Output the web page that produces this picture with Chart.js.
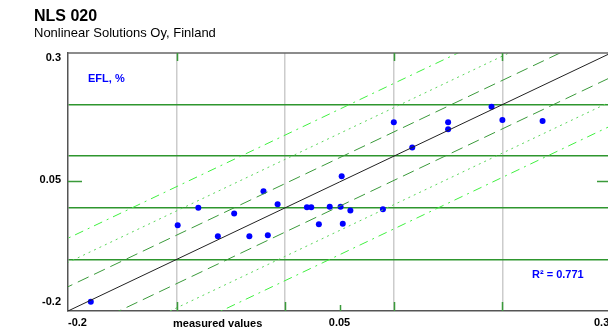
<!DOCTYPE html>
<html>
<head>
<meta charset="utf-8">
<script src="https://cdn.jsdelivr.net/npm/chart.js@4"></script>
<style>
  html, body { margin: 0; padding: 0; background: #fff; overflow: hidden; }
  #wrap { width: 620px; height: 331px; }
</style>
</head>
<body>
<div id="wrap"><canvas id="myChart"></canvas></div>
<script>
// measured vs predicted EFL values
var measured = [-0.179, -0.099, -0.080, -0.062, -0.047, -0.033, -0.020, -0.016, -0.007, 0.020,
                0.024, 0.031, 0.041, 0.051, 0.052, 0.053, 0.060, 0.090, 0.100, 0.117,
                0.150, 0.150, 0.190, 0.200, 0.237];
var predicted = [-0.182, -0.034, 0.000, -0.055, -0.011, -0.055, 0.032, -0.053, 0.007, 0.001,
                 0.001, -0.032, 0.002, 0.002, 0.061, -0.031, -0.005, -0.003, 0.166, 0.117,
                 0.166, 0.152, 0.196, 0.170, 0.168];
var axis_range = [-0.2, 0.3];
var grid_values = [-0.1, 0, 0.1, 0.2];
var x_labels = [-0.2, 0.05, 0.3];
var y_labels = [0.3, 0.05, -0.2];
var sigma = 0.047;
var r_squared = '0.771';

var points = measured.map(function (v, i) { return { x: v, y: predicted[i] }; });

function band(off) {
    // y = x + off across the whole axis range
    return [{ x: axis_range[0] - 0.5, y: axis_range[0] - 0.5 + off },
            { x: axis_range[1] + 0.5, y: axis_range[1] + 0.5 + off }];
}

var bands = [
    { k: 1, color: '#3a9a3a', dash: [12, 6] },
    { k: 2, color: '#5cd65c', dash: [2, 4] },
    { k: 3, color: '#40f040', dash: [9, 5, 2, 5] }
];

var datasets = [];
bands.forEach(function (b) {
    [1, -1].forEach(function (s) {
        datasets.push({
            type: 'line', data: band(s * b.k * sigma), borderColor: b.color,
            borderWidth: 1, borderDash: b.dash, pointRadius: 0, fill: false
        });
    });
});
datasets.push({
    type: 'line', data: band(0), borderColor: '#222', borderWidth: 1,
    pointRadius: 0, fill: false
});
datasets.push({
    type: 'scatter', data: points, backgroundColor: '#0000ff', borderColor: '#0000ff',
    pointRadius: 3, pointBorderWidth: 0
});

var decor = {
    id: 'decor',
    afterDraw: function (chart) {
        var c = chart.ctx, a = chart.chartArea;
        var xs = chart.scales.x, ys = chart.scales.y;
        c.save();
        // top border
        c.strokeStyle = '#666';
        c.lineWidth = 1.5;
        c.beginPath();
        c.moveTo(a.left, a.top); c.lineTo(a.right, a.top);
        c.stroke();
        // little green ticks
        c.strokeStyle = '#3a9a3a';
        c.lineWidth = 1.5;
        grid_values.concat([0.05]).forEach(function (v) {
            var px = Math.round(xs.getPixelForValue(v)) + 0.5;
            var len = v === 0.05 ? 6 : 9;
            c.beginPath();
            c.moveTo(px, a.bottom); c.lineTo(px, a.bottom - len);
            if (v !== 0 && v !== 0.05) { c.moveTo(px, a.top); c.lineTo(px, a.top + 8); }
            c.stroke();
        });
        var py = Math.round(ys.getPixelForValue(0.05)) - 0.5;
        c.beginPath();
        c.moveTo(a.left, py); c.lineTo(a.left + 14, py);
        c.moveTo(a.right - 14, py); c.lineTo(a.right, py);
        c.stroke();

        // tick labels
        c.fillStyle = '#000';
        c.font = 'bold 11px "Liberation Sans", Arial, sans-serif';
        c.textBaseline = 'middle';
        c.textAlign = 'right';
        var yOff = [5, -2, -9];
        y_labels.forEach(function (v, i) {
            c.fillText(String(v), a.left - 7, ys.getPixelForValue(v) + yOff[i]);
        });
        var ly = a.bottom + 12;
        c.textAlign = 'left';
        c.fillText(String(x_labels[0]), xs.getPixelForValue(x_labels[0]), ly);
        c.textAlign = 'center';
        c.fillText(String(x_labels[1]), xs.getPixelForValue(x_labels[1]), ly);
        c.textAlign = 'left';
        c.fillText(String(x_labels[2]), xs.getPixelForValue(x_labels[2]) - 17, ly);
        c.fillText('measured values', 173, ly + 1);

        // annotations
        c.fillStyle = '#0000ff';
        c.fillText('EFL, %', 88, 79);
        c.fillText('R² = ' + r_squared, 532, 275);

        // title
        c.fillStyle = '#000';
        c.textBaseline = 'alphabetic';
        c.font = 'bold 16px "Liberation Sans", Arial, sans-serif';
        c.fillText('NLS 020', 34, 21);
        c.font = '13px "Liberation Sans", Arial, sans-serif';
        c.fillText('Nonlinear Solutions Oy, Finland', 34, 37);
        c.restore();
    }
};

var ctx = document.getElementById('myChart').getContext('2d');
var myChart = new Chart(ctx, {
    data: { datasets: datasets },
    options: {
        responsive: true,
        maintainAspectRatio: false,
        animation: false,
        layout: { padding: { top: 53, left: 68, right: 9, bottom: 20 } },
        scales: {
            x: {
                type: 'linear', min: axis_range[0], max: axis_range[1],
                ticks: { display: false, stepSize: 0.1 },
                grid: {
                    drawTicks: false, lineWidth: 1.5,
                    color: function (c) {
                        return grid_values.some(function (g) { return Math.abs(g - c.tick.value) < 1e-6; }) ? '#cccccc' : 'rgba(0,0,0,0)';
                    }
                },
                border: { color: '#555', width: 1.5 }
            },
            y: {
                type: 'linear', min: axis_range[0], max: axis_range[1],
                ticks: { display: false, stepSize: 0.1 },
                grid: {
                    drawTicks: false, lineWidth: 1.5,
                    color: function (c) {
                        return grid_values.some(function (g) { return Math.abs(g - c.tick.value) < 1e-6; }) ? '#2e962e' : 'rgba(0,0,0,0)';
                    }
                },
                border: { color: '#555', width: 1.5 }
            }
        },
        plugins: {
            legend: { display: false },
            tooltip: { enabled: false }
        }
    },
    plugins: [decor]
});
</script>
</body>
</html>
